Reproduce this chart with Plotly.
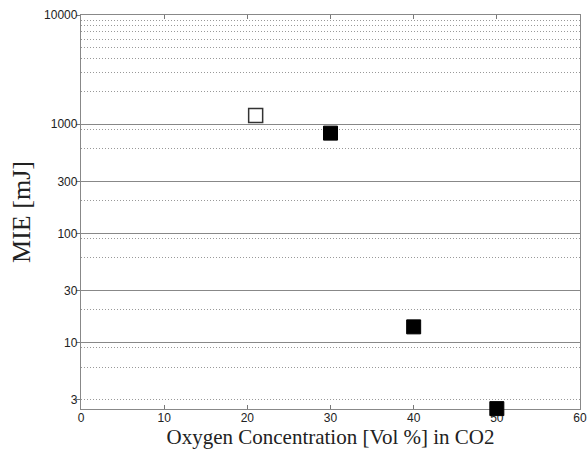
import plotly.graph_objects as go
import math

# Data
x_open = [21]
y_open = [1200]
x_filled = [30, 40, 50]
y_filled = [830, 14, 2.5]

x_ticks = [0, 10, 20, 30, 40, 50, 60]
y_ticks = [3, 10, 30, 100, 300, 1000, 10000]
y_tick_text = ["3", "10", "30", "100", "300", "1000", "10000"]
y_solid_grid = [10, 30, 100, 300, 1000]
y_dotted_grid = [3, 6, 9, 20, 60, 90, 200, 600, 900,
                 2000, 3000, 4000, 5000, 6000, 7000, 8000, 9000]

y_range = [math.log10(2.48), 4]

fig = go.Figure()
fig.add_trace(go.Scatter(
    x=x_open, y=y_open, mode="markers",
    marker=dict(symbol="square", size=14, color="white",
                line=dict(color="#333333", width=1.5)),
    cliponaxis=False, showlegend=False))
fig.add_trace(go.Scatter(
    x=x_filled, y=y_filled, mode="markers",
    marker=dict(symbol="square", size=14, color="black",
                line=dict(color="black", width=1)),
    cliponaxis=False, showlegend=False))

fig.update_layout(
    width=587, height=450,
    margin=dict(l=81, r=7, t=15, b=41),
    paper_bgcolor="white", plot_bgcolor="white",
    font=dict(family="Liberation Sans, Arial", size=12, color="#222222"),
    xaxis=dict(
        range=[0, 60], tickvals=x_ticks, ticks="inside", ticklen=4,
        tickcolor="#777777", showline=True, linecolor="#888888", linewidth=1.3,
        mirror="ticks", showgrid=False, zeroline=False, layer="below traces",
        ticklabelstandoff=-3,
        title=dict(text="Oxygen Concentration [Vol %] in CO2",
                   font=dict(family="Liberation Serif, Times New Roman", size=21,
                             color="#222222"),
                   standoff=0),
        automargin=False,
    ),
    yaxis=dict(
        type="log", range=y_range, tickvals=y_ticks, ticktext=y_tick_text,
        ticks="outside", ticklen=4, tickcolor="#777777",
        showline=True, linecolor="#888888", linewidth=1.3, mirror=True,
        showgrid=False, zeroline=False, layer="below traces",
        ticklabelstandoff=-4,
        minor=dict(tickvals=y_dotted_grid, showgrid=True, griddash="1px,2px",
                   gridcolor="#999999", gridwidth=1, ticks=""),
        title=dict(text="MIE [mJ]",
                   font=dict(family="Liberation Serif, Times New Roman", size=26,
                             color="#222222"),
                   standoff=5),
        automargin=False,
    ),
    yaxis2=dict(
        type="log", range=y_range, overlaying="y", side="left",
        tickvals=y_solid_grid, showticklabels=False, ticks="",
        showgrid=True, gridcolor="#888888", gridwidth=1.3,
        showline=False, zeroline=False,
    ),
)

# invisible trace to activate yaxis2 grid
fig.add_trace(go.Scatter(x=[None], y=[None], yaxis="y2", showlegend=False,
                         hoverinfo="skip"))

fig.write_html(
    "out.html",
    config={"displayModeBar": False},
    post_script="document.body.style.margin='0';document.body.style.overflow='hidden';",
)
